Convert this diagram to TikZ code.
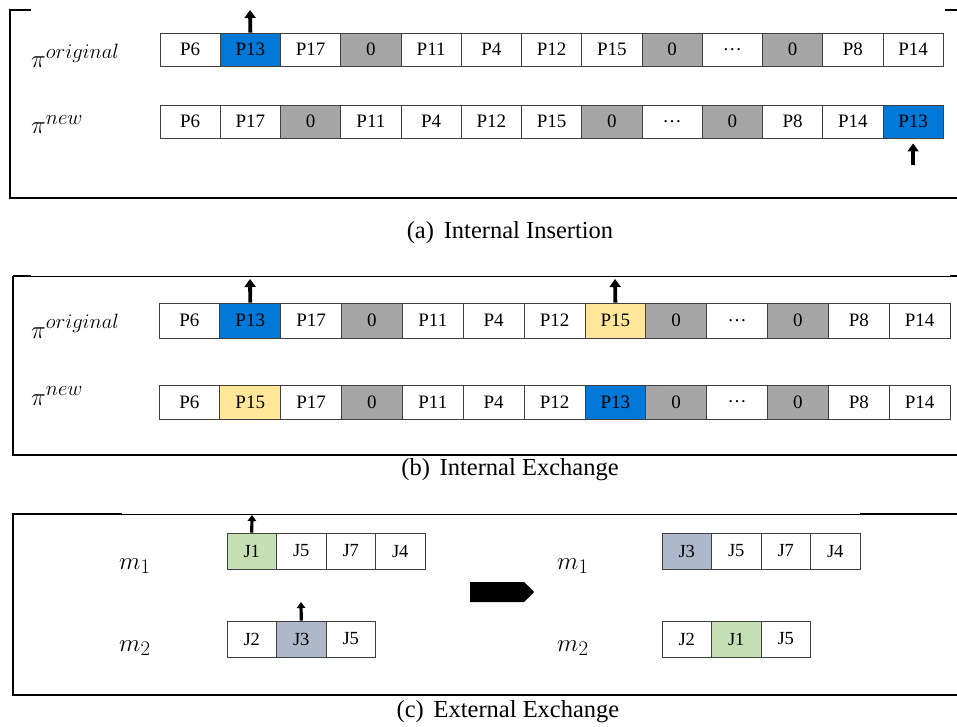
\documentclass[tikz,border=0pt]{standalone}
\usepackage{fontspec}
\setmainfont{Liberation Serif}
\usetikzlibrary{shapes,arrows.meta,positioning}

\definecolor{selblue}{RGB}{0,120,215}
\definecolor{sepgray}{RGB}{166,166,166}
\definecolor{selyellow}{RGB}{255,230,153}
\definecolor{jobgreen}{RGB}{197,224,180}
\definecolor{jobslate}{RGB}{173,185,202}
\definecolor{cellline}{RGB}{64,64,64}

\begin{document}
\begin{tikzpicture}[x=1pt, y=-1pt]
\tikzstyle{cell} = [rectangle, draw=cellline, line width=0.9pt, inner sep=0pt, font=\fontsize{19}{21}\selectfont]
\tikzstyle{sep} = [cell, fill=sepgray]
\tikzstyle{blu} = [cell, fill=selblue]
\tikzstyle{yel} = [cell, fill=selyellow]
\tikzstyle{grn} = [cell, fill=jobgreen, font=\fontsize{18.5}{21}\selectfont]
\tikzstyle{slt} = [cell, fill=jobslate, font=\fontsize{18.5}{21}\selectfont]
\tikzstyle{job} = [cell, font=\fontsize{18.5}{21}\selectfont]
\tikzstyle{upar} = [line width=3.8pt, -{Triangle[length=8pt,width=11pt]}]
\tikzstyle{smallar} = [line width=3.2pt, -{Triangle[length=6pt,width=8.5pt]}]
\tikzstyle{perm} = [anchor=base west, inner sep=0pt, font=\fontsize{32}{34}\selectfont]
\tikzstyle{mach} = [anchor=base west, inner sep=0pt, font=\fontsize{29}{31}\selectfont]
\tikzstyle{caption} = [font=\fontsize{24.5}{28}\selectfont]
\tikzstyle{frame} = [line width=2pt]

\useasboundingbox (0,0) rectangle (957,727);

% (a) internal insertion
\draw[frame] (31,10) -- (10,10) -- (10,198) -- (957,198);
\draw[line width=1.5pt] (945,10) -- (957,10);
\node[perm] (pia1) at (31,68) {$\pi^{original}$};
\node[perm] (pia2) at (31,134) {$\pi^{new}$};
\foreach \t/\s [count=\i] in {P6/cell, P13/blu, P17/cell, 0/sep, P11/cell, P4/cell, P12/cell, P15/cell, 0/sep, \dots/cell, 0/sep, P8/cell, P14/cell}
  \node[\s, minimum width=60.25pt, minimum height=33pt] (a1-\i) at (160+60.25*\i-30.125, 49.5) {\t};
\foreach \t/\s [count=\i] in {P6/cell, P17/cell, 0/sep, P11/cell, P4/cell, P12/cell, P15/cell, 0/sep, \dots/cell, 0/sep, P8/cell, P14/cell, P13/blu}
  \node[\s, minimum width=60.25pt, minimum height=33pt] (a2-\i) at (160+60.25*\i-30.125, 121.5) {\t};
\coordinate (a1top) at (250,10);
\coordinate (a2bot) at (913,165);
\draw[upar] (a1-2.north) -- (a1top);
\draw[upar, shorten >=5pt] (a2bot) -- (a2-13.south);
\node[caption] (capa) at (510,233) {(a)\hspace{0.4em}Internal Insertion};

% (b) internal exchange
\draw[frame] (13,276) -- (13,455) -- (957,455);
\draw[line width=1pt] (13,276) -- (957,276);
\draw[frame] (13,276) -- (31,276);
\draw[frame] (950,276) -- (957,276);
\node[perm] (pib1) at (31,338) {$\pi^{original}$};
\node[perm] (pib2) at (31,405) {$\pi^{new}$};
\foreach \t/\s [count=\i] in {P6/cell, P13/blu, P17/cell, 0/sep, P11/cell, P4/cell, P12/cell, P15/yel, 0/sep, \dots/cell, 0/sep, P8/cell, P14/cell}
  \node[\s, minimum width=60.85pt, minimum height=35pt] (b1-\i) at (159+60.85*\i-30.425, 320.5) {\t};
\foreach \t/\s [count=\i] in {P6/cell, P15/yel, P17/cell, 0/sep, P11/cell, P4/cell, P12/cell, P13/blu, 0/sep, \dots/cell, 0/sep, P8/cell, P14/cell}
  \node[\s, minimum width=60.85pt, minimum height=34pt] (b2-\i) at (159+60.85*\i-30.425, 402) {\t};
\coordinate (b1topl) at (250,279);
\coordinate (b1topr) at (615,279);
\draw[upar] (b1-2.north) -- (b1topl);
\draw[upar] (b1-8.north) -- (b1topr);
\node[caption] (capb) at (510,470) {(b)\hspace{0.4em}Internal Exchange};

% (c) external exchange
\draw[frame] (122,514) -- (13,514) -- (13,695) -- (957,695);
\draw[line width=1pt] (122,514) -- (860,514);
\draw[frame] (860,514) -- (957,514);
\node[mach] (m1l) at (119,569) {$m_1$};
\node[mach] (m2l) at (119,651) {$m_2$};
\node[mach] (m1r) at (557,569) {$m_1$};
\node[mach] (m2r) at (557,651) {$m_2$};
\foreach \t/\s [count=\i] in {J1/grn, J5/job, J7/job, J4/job}
  \node[\s, minimum width=49.5pt, minimum height=36pt] (c1-\i) at (227+49.5*\i-24.75, 551) {\t};
\foreach \t/\s [count=\i] in {J2/job, J3/slt, J5/job}
  \node[\s, minimum width=49.5pt, minimum height=36pt] (c2-\i) at (227+49.5*\i-24.75, 639) {\t};
\foreach \t/\s [count=\i] in {J3/slt, J5/job, J7/job, J4/job}
  \node[\s, minimum width=49.5pt, minimum height=36pt] (c3-\i) at (662+49.5*\i-24.75, 551) {\t};
\foreach \t/\s [count=\i] in {J2/job, J1/grn, J5/job}
  \node[\s, minimum width=49.5pt, minimum height=36pt] (c4-\i) at (662+49.5*\i-24.75, 639) {\t};
\coordinate (c1top) at (252,515);
\coordinate (c2top) at (301,602);
\draw[smallar] (c1-1.north) -- (c1top);
\draw[smallar] (c2-2.north) -- (c2top);
\node[single arrow, fill=black, minimum height=64pt, minimum width=20pt, single arrow head extend=0pt, single arrow tip angle=90, inner sep=0pt] (swap) at (497,592) {};
\node[caption] (capc) at (508,712) {(c)\hspace{0.4em}External Exchange};
\end{tikzpicture}
\end{document}
